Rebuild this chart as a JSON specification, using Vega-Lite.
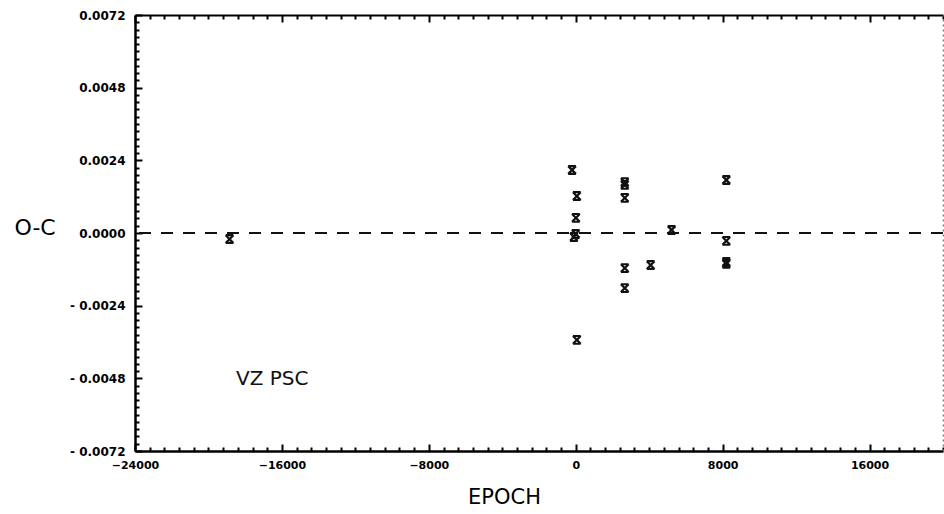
{
  "$schema": "https://vega.github.io/schema/vega-lite/v6.json",
  "width": 808,
  "height": 436,
  "autosize": {"type": "none"},
  "padding": {"left": 135, "top": 15, "right": 1, "bottom": 63},
  "background": "white",
  "config": {
    "view": {"stroke": null},
    "axis": {"grid": false, "labelFont": "DejaVu Sans", "titleFont": "DejaVu Sans", "domainColor": "black", "tickColor": "black", "labelColor": "black", "titleColor": "black"}
  },
  "resolve": {"axis": {"x": "independent", "y": "independent"}},
  "layer": [
    {
      "data": {"values": [
        {"epoch": -18850, "oc": -0.0002},
        {"epoch": -200, "oc": 0.00208},
        {"epoch": 60, "oc": 0.00122},
        {"epoch": 10, "oc": 0.0005},
        {"epoch": -100, "oc": -0.00013},
        {"epoch": 0, "oc": -0.00003},
        {"epoch": 60, "oc": -0.00353},
        {"epoch": 2670, "oc": 0.00168},
        {"epoch": 2670, "oc": 0.00159},
        {"epoch": 2670, "oc": 0.00116},
        {"epoch": 2670, "oc": -0.00116},
        {"epoch": 2670, "oc": -0.00182},
        {"epoch": 4080, "oc": -0.00106},
        {"epoch": 5220, "oc": 0.0001},
        {"epoch": 8200, "oc": 0.00175},
        {"epoch": 8200, "oc": -0.00026},
        {"epoch": 8200, "oc": -0.00096},
        {"epoch": 8200, "oc": -0.00102}
      ]},
      "mark": {"type": "point", "shape": "M-1,-1L1,1M1,-1L-1,1M-1,-1L1,-1M-1,1L1,1", "filled": false, "stroke": "#111", "strokeWidth": 2.2, "size": 60, "opacity": 1},
      "encoding": {
        "x": {"field": "epoch", "type": "quantitative", "scale": {"domain": [-24000, 20000], "nice": false, "zero": false},
          "axis": {"orient": "bottom", "values": [-24000, -16000, -8000, 0, 8000, 16000], "ticks": false, "domain": true, "domainWidth": 2.5,
            "labelFontSize": 11, "labelFontWeight": "bold", "labelPadding": 8, "labelFlush": false, "format": "d",
            "title": "EPOCH", "titleFontSize": 21, "titleFontWeight": "normal", "titleX": 369, "titleY": 52, "titleAlign": "center", "titleBaseline": "alphabetic"}},
        "y": {"field": "oc", "type": "quantitative", "scale": {"domain": [-0.0072, 0.0072], "nice": false, "zero": false},
          "axis": {"orient": "left", "values": [-0.0072, -0.0048, -0.0024, 0, 0.0024, 0.0048, 0.0072], "ticks": false, "domain": true, "domainWidth": 2.5,
            "labelFontSize": 12, "labelFontWeight": "bold", "labelPadding": 10, "labelFlush": false,
            "labelExpr": "datum.value < -0.00001 ? '- ' + format(abs(datum.value), '.4f') : format(abs(datum.value), '.4f')",
            "title": "O-C", "titleFontSize": 22, "titleFontWeight": "normal", "titleAngle": 0, "titleX": -121, "titleY": 219, "titleAlign": "left", "titleBaseline": "alphabetic"}}
      }
    },
    {
      "data": {"values": [{"ref": 0}]},
      "mark": {"type": "rule", "color": "#111", "strokeWidth": 2, "strokeDash": [12, 10]},
      "encoding": {
        "y": {"field": "ref", "type": "quantitative", "scale": {"domain": [-0.0072, 0.0072], "nice": false, "zero": false},
          "axis": {"orient": "left", "domain": false, "labels": false, "title": null,
            "values": [-0.0072, -0.00696, -0.00672, -0.00648, -0.00624, -0.006, -0.00576, -0.00552, -0.00528, -0.00504, -0.0048, -0.00456, -0.00432, -0.00408, -0.00384, -0.0036, -0.00336, -0.00312, -0.00288, -0.00264, -0.0024, -0.00216, -0.00192, -0.00168, -0.00144, -0.0012, -0.00096, -0.00072, -0.00048, -0.00024, 0, 0.00024, 0.00048, 0.00072, 0.00096, 0.0012, 0.00144, 0.00168, 0.00192, 0.00216, 0.0024, 0.00264, 0.00288, 0.00312, 0.00336, 0.0036, 0.00384, 0.00408, 0.00432, 0.00456, 0.0048, 0.00504, 0.00528, 0.00552, 0.00576, 0.006, 0.00624, 0.00648, 0.00672, 0.00696, 0.0072],
            "tickWidth": 2,
            "tickSize": {"condition": {"test": "round(datum.value * 100000) % 240 == 0", "value": -7}, "value": -4}}}
      }
    },
    {
      "data": {"values": [{"epoch": -18500, "oc": -0.00481, "label": "VZ PSC"}]},
      "mark": {"type": "text", "font": "DejaVu Sans", "fontSize": 20, "align": "left", "baseline": "middle", "color": "#111"},
      "encoding": {
        "x": {"field": "epoch", "type": "quantitative", "scale": {"domain": [-24000, 20000], "nice": false, "zero": false},
          "axis": {"orient": "bottom", "domain": false, "labels": false, "title": null,
            "values": [-24000, -23200, -22400, -21600, -20800, -20000, -19200, -18400, -17600, -16800, -16000, -15200, -14400, -13600, -12800, -12000, -11200, -10400, -9600, -8800, -8000, -7200, -6400, -5600, -4800, -4000, -3200, -2400, -1600, -800, 0, 800, 1600, 2400, 3200, 4000, 4800, 5600, 6400, 7200, 8000, 8800, 9600, 10400, 11200, 12000, 12800, 13600, 14400, 15200, 16000, 16800, 17600, 18400, 19200, 20000],
            "tickWidth": 2,
            "tickSize": {"condition": {"test": "datum.value % 8000 == 0", "value": -7}, "value": -4}}},
        "y": {"field": "oc", "type": "quantitative", "scale": {"domain": [-0.0072, 0.0072], "nice": false, "zero": false},
          "axis": {"orient": "right", "domain": true, "domainColor": "#777", "domainDash": [2, 3], "domainWidth": 1.5, "ticks": false, "labels": false, "title": null}},
        "text": {"field": "label"}
      }
    },
    {
      "data": {"values": [{"ref": 0}]},
      "mark": {"type": "rule", "opacity": 0},
      "encoding": {
        "x": {"field": "ref", "type": "quantitative", "scale": {"domain": [-24000, 20000], "nice": false, "zero": false},
          "axis": {"orient": "top", "domain": true, "domainWidth": 2, "labels": false, "title": null,
            "values": [-24000, -23200, -22400, -21600, -20800, -20000, -19200, -18400, -17600, -16800, -16000, -15200, -14400, -13600, -12800, -12000, -11200, -10400, -9600, -8800, -8000, -7200, -6400, -5600, -4800, -4000, -3200, -2400, -1600, -800, 0, 800, 1600, 2400, 3200, 4000, 4800, 5600, 6400, 7200, 8000, 8800, 9600, 10400, 11200, 12000, 12800, 13600, 14400, 15200, 16000, 16800, 17600, 18400, 19200, 20000],
            "tickWidth": 2,
            "tickSize": {"condition": {"test": "datum.value % 8000 == 0", "value": -7}, "value": -4}}}
      }
    }
  ]
}
